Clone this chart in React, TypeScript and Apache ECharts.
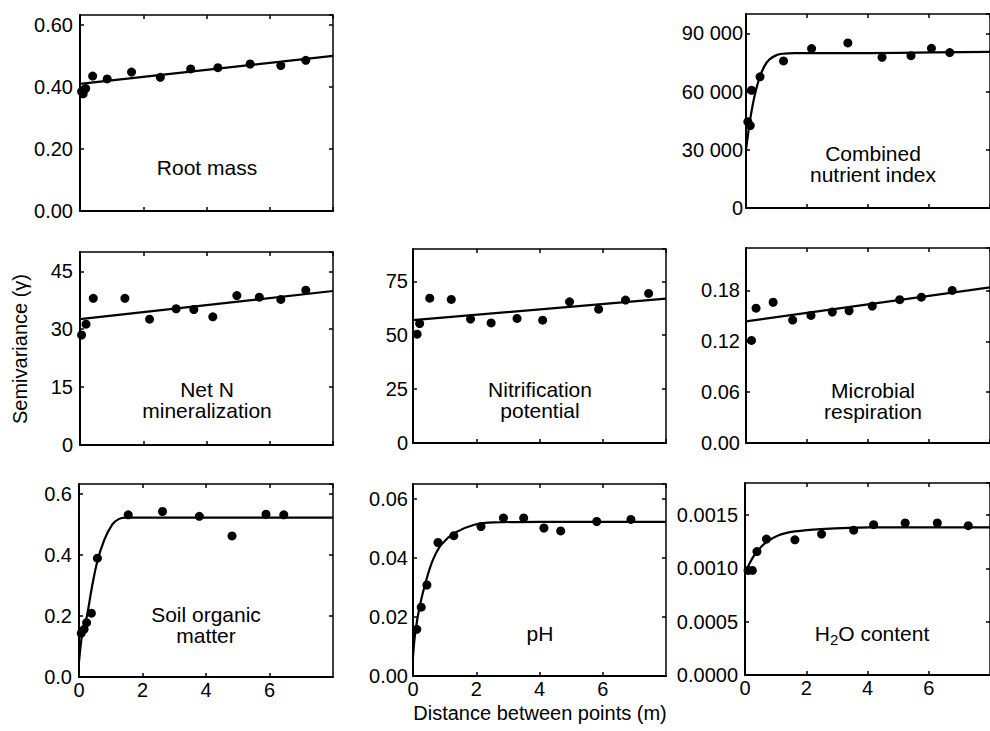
import React, { useEffect, useRef } from "react";
import * as echarts from "echarts";

const FONT = "'Liberation Sans', Arial, Helvetica, sans-serif";

// ---------- shared axis labels ----------
const xTickLabels = ["0", "2", "4", "6"];

// ---------- Root mass ----------
const rootX = [0.05, 0.1, 0.18, 0.4, 0.86, 1.63, 2.54, 3.5, 4.36, 5.38, 6.35, 7.14];
const rootY = [0.385, 0.378, 0.395, 0.435, 0.426, 0.448, 0.431, 0.458, 0.462, 0.474, 0.469, 0.486];
const rootFitX = [0, 8];
const rootFitY = [0.41, 0.5];
const rootTicks = ["0.00", "0.20", "0.40", "0.60"];

// ---------- Combined nutrient index ----------
const cniX = [0.06, 0.14, 0.18, 0.46, 1.23, 2.15, 3.34, 4.46, 5.41, 6.08, 6.68];
const cniY = [44500, 42500, 60700, 67600, 75800, 82200, 85100, 77700, 78500, 82300, 80100];
const cniFitX = [0, 0.05, 0.13, 0.23, 0.33, 0.44, 0.6, 0.76, 1.0, 1.2, 1.6, 3, 5, 8];
const cniFitY = [30000, 36000, 45000, 54000, 61000, 67000, 73000, 76500, 78800, 79500, 79800, 79800, 80000, 80500];
const cniTicks = ["0", "30 000", "60 000", "90 000"];

// ---------- Net N mineralization ----------
const netNX = [0.05, 0.19, 0.42, 1.42, 2.2, 3.04, 3.6, 4.2, 4.96, 5.67, 6.35, 7.14];
const netNY = [28.5, 31.3, 38.0, 38.0, 32.6, 35.3, 35.1, 33.2, 38.7, 38.3, 37.7, 40.1];
const netNFitX = [0, 8];
const netNFitY = [32.6, 39.9];
const netNTicks = ["0", "15", "30", "45"];

// ---------- Nitrification potential ----------
const nitX = [0.13, 0.21, 0.53, 1.21, 1.82, 2.47, 3.29, 4.1, 4.95, 5.87, 6.72, 7.45];
const nitY = [50.5, 55.4, 67.2, 66.6, 57.5, 55.7, 57.8, 57.0, 65.5, 62.1, 66.3, 69.4];
const nitFitX = [0, 8];
const nitFitY = [57, 67];
const nitTicks = ["0", "25", "50", "75"];

// ---------- Microbial respiration ----------
const micX = [0.18, 0.33, 0.89, 1.53, 2.13, 2.83, 3.38, 4.14, 5.04, 5.75, 6.76];
const micY = [0.121, 0.159, 0.166, 0.145, 0.1505, 0.1545, 0.156, 0.1615, 0.169, 0.172, 0.18];
const micFitX = [0, 8];
const micFitY = [0.1435, 0.1835];
const micTicks = ["0.00", "0.06", "0.12", "0.18"];

// ---------- Soil organic matter ----------
const somX = [0.07, 0.16, 0.24, 0.39, 0.58, 1.55, 2.63, 3.79, 4.82, 5.89, 6.45];
const somY = [0.143, 0.156, 0.178, 0.209, 0.389, 0.531, 0.542, 0.526, 0.462, 0.533, 0.531];
const somFitX = [0, 0.05, 0.1, 0.25, 0.4, 0.58, 0.8, 1.05, 1.25, 1.45, 8];
const somFitY = [0.05, 0.1, 0.14, 0.2, 0.29, 0.38, 0.45, 0.5, 0.517, 0.522, 0.522];
const somTicks = ["0.0", "0.2", "0.4", "0.6"];

// ---------- pH ----------
const phX = [0.12, 0.26, 0.44, 0.79, 1.29, 2.15, 2.86, 3.5, 4.14, 4.67, 5.81, 6.89];
const phY = [0.0158, 0.0233, 0.0308, 0.0452, 0.0475, 0.0506, 0.0535, 0.0535, 0.0501, 0.0491, 0.0523, 0.053];
const phFitX = [0, 0.07, 0.21, 0.42, 0.63, 0.89, 1.31, 1.94, 2.57, 4, 8];
const phFitY = [0.0065, 0.0145, 0.0235, 0.0325, 0.0393, 0.0444, 0.0484, 0.0512, 0.052, 0.0522, 0.0522];
const phTicks = ["0.00", "0.02", "0.04", "0.06"];

// ---------- H2O content ----------
const h2oX = [0.1, 0.24, 0.39, 0.7, 1.63, 2.5, 3.55, 4.2, 5.23, 6.28, 7.29];
const h2oY = [0.00098, 0.00098, 0.001157, 0.001274, 0.001267, 0.001321, 0.001358, 0.001409, 0.001425, 0.001425, 0.0014];
const h2oFitX = [0, 0.16, 0.37, 0.68, 1.1, 1.63, 2.47, 4.05, 8];
const h2oFitY = [0.000943, 0.001053, 0.001148, 0.001242, 0.001311, 0.001346, 0.001368, 0.001384, 0.001384];
const h2oTicks = ["0.0000", "0.0005", "0.0010", "0.0015"];

const zip = (a: number[], b: number[]) => a.map((v, i) => [v, b[i]]);

type Panel = {
  left: number; top: number; width: number; height: number;
  yMax: number; yInterval: number; yTicks: string[];
  px: number[]; py: number[]; fx: number[]; fy: number[];
  smooth: boolean; showX: boolean; labelMargin: number;
  label: string; rich?: boolean; labelY: number;
};

const panels: Panel[] = [
  { left: 80, top: 15, width: 253, height: 196, yMax: 0.632, yInterval: 0.2, yTicks: rootTicks,
    px: rootX, py: rootY, fx: rootFitX, fy: rootFitY, smooth: false, showX: false, labelMargin: 7,
    label: "Root mass", labelY: 167 },
  { left: 746, top: 14, width: 253, height: 194, yMax: 100000, yInterval: 30000, yTicks: cniTicks,
    px: cniX, py: cniY, fx: cniFitX, fy: cniFitY, smooth: true, showX: false, labelMargin: 3,
    label: "Combined\nnutrient index", labelY: 164 },
  { left: 80, top: 252, width: 253, height: 193, yMax: 50, yInterval: 15, yTicks: netNTicks,
    px: netNX, py: netNY, fx: netNFitX, fy: netNFitY, smooth: false, showX: false, labelMargin: 7,
    label: "Net N\nmineralization", labelY: 400 },
  { left: 413, top: 249, width: 253, height: 194, yMax: 90, yInterval: 25, yTicks: nitTicks,
    px: nitX, py: nitY, fx: nitFitX, fy: nitFitY, smooth: false, showX: false, labelMargin: 5,
    label: "Nitrification\npotential", labelY: 400 },
  { left: 746, top: 248, width: 253, height: 195, yMax: 0.23, yInterval: 0.06, yTicks: micTicks,
    px: micX, py: micY, fx: micFitX, fy: micFitY, smooth: false, showX: false, labelMargin: 6,
    label: "Microbial\nrespiration", labelY: 401 },
  { left: 79, top: 484, width: 254, height: 193, yMax: 0.632, yInterval: 0.2, yTicks: somTicks,
    px: somX, py: somY, fx: somFitX, fy: somFitY, smooth: true, showX: true, labelMargin: 7,
    label: "Soil organic\nmatter", labelY: 625 },
  { left: 413, top: 484, width: 253, height: 192, yMax: 0.065, yInterval: 0.02, yTicks: phTicks,
    px: phX, py: phY, fx: phFitX, fy: phFitY, smooth: true, showX: true, labelMargin: 5,
    label: "pH", labelY: 633 },
  { left: 745, top: 483, width: 253, height: 192, yMax: 0.0018, yInterval: 0.0005, yTicks: h2oTicks,
    px: h2oX, py: h2oY, fx: h2oFitX, fy: h2oFitY, smooth: true, showX: true, labelMargin: 7,
    label: "{n|H}{s|2}{n|O content}", rich: true, labelY: 633 },
];

const tickFormatter = (labels: string[], interval: number) => (v: number) => {
  const idx = Math.round(v / interval);
  if (Math.abs(v - idx * interval) > interval * 1e-6) return "";
  return labels[idx] ?? "";
};

function buildOption() {
  const grid: any[] = [];
  const xAxis: any[] = [];
  const yAxis: any[] = [];
  const series: any[] = [];
  const graphic: any[] = [];

  const lineMain = { show: true, onZero: false, lineStyle: { color: "#000", width: 2 } };
  const lineSide = { show: true, onZero: false, lineStyle: { color: "#000", width: 1.5 } };
  const tick = { show: true, inside: true, length: 4, lineStyle: { color: "#000", width: 1.5 } };

  panels.forEach((p, i) => {
    grid.push({ left: p.left, top: p.top, width: p.width, height: p.height, show: false });
    const xBase = { type: "value", gridIndex: i, min: 0, max: 8, interval: 2, splitLine: { show: false }, axisTick: tick };
    xAxis.push({
      ...xBase, position: "bottom", axisLine: lineMain,
      axisLabel: {
        show: p.showX, margin: 3, color: "#000", fontSize: 20, fontFamily: FONT,
        showMaxLabel: false, formatter: tickFormatter(xTickLabels, 2),
      },
    });
    xAxis.push({ ...xBase, position: "top", axisLine: lineSide, axisLabel: { show: false } });
    const yBase = { type: "value", gridIndex: i, min: 0, max: p.yMax, interval: p.yInterval, splitLine: { show: false }, axisTick: tick };
    yAxis.push({
      ...yBase, position: "left", axisLine: lineMain,
      axisLabel: {
        show: true, margin: p.labelMargin, color: "#000", fontSize: 20, fontFamily: FONT,
        showMaxLabel: false, formatter: tickFormatter(p.yTicks, p.yInterval),
      },
    });
    yAxis.push({ ...yBase, position: "right", axisLine: lineSide, axisLabel: { show: false } });

    series.push({
      type: "line", xAxisIndex: 2 * i, yAxisIndex: 2 * i, data: zip(p.fx, p.fy),
      showSymbol: false, smooth: p.smooth ? 0.35 : false,
      lineStyle: { color: "#000", width: 2.2 }, z: 2,
    });
    series.push({
      type: "scatter", xAxisIndex: 2 * i, yAxisIndex: 2 * i, data: zip(p.px, p.py),
      symbol: "circle", symbolSize: 9, itemStyle: { color: "#000", opacity: 1 }, z: 3,
    });

    const cx = p.left + 127;
    if (p.rich) {
      graphic.push({
        type: "text", x: cx, y: p.labelY,
        style: {
          text: p.label, align: "center", verticalAlign: "middle",
          textAlign: "center", textVerticalAlign: "middle", fill: "#000",
          rich: {
            n: { fontSize: 21, fontFamily: FONT, lineHeight: 28, verticalAlign: "middle", fill: "#000", color: "#000" },
            s: { fontSize: 15, fontFamily: FONT, verticalAlign: "bottom", fill: "#000", color: "#000" },
          },
        },
      });
    } else {
      graphic.push({
        type: "text", x: cx, y: p.labelY,
        style: {
          text: p.label, fontSize: 21, fontFamily: FONT, lineHeight: 21, fill: "#000",
          align: "center", verticalAlign: "middle", textAlign: "center", textVerticalAlign: "middle",
        },
      });
    }
  });

  graphic.push({
    type: "text", x: 20, y: 349, rotation: Math.PI / 2,
    style: {
      text: "Semivariance (γ)", fontSize: 20, fontFamily: FONT, fill: "#000",
      align: "center", verticalAlign: "middle", textAlign: "center", textVerticalAlign: "middle",
    },
  });
  graphic.push({
    type: "text", x: 540, y: 713,
    style: {
      text: "Distance between points (m)", fontSize: 20, fontFamily: FONT, fill: "#000",
      align: "center", verticalAlign: "middle", textAlign: "center", textVerticalAlign: "middle",
    },
  });

  return { animation: false, backgroundColor: "#fff", grid, xAxis, yAxis, series, graphic };
}

export default function App() {
  const ref = useRef<HTMLDivElement>(null);
  useEffect(() => {
    document.body.style.margin = "0";
    const chart = echarts.init(ref.current!, null, { renderer: "svg" });
    chart.setOption(buildOption() as any);
    return () => chart.dispose();
  }, []);
  return <div ref={ref} style={{ width: 990, height: 731 }} />;
}
